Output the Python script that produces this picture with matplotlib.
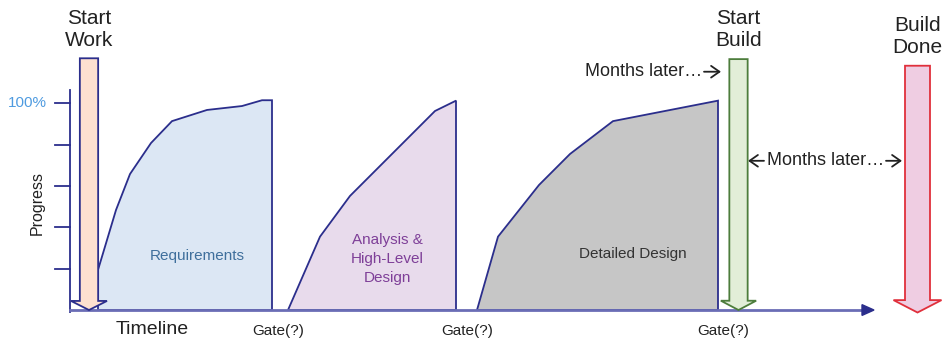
import matplotlib.pyplot as plt
import matplotlib.patches as mpatches
import numpy as np

plt.rcParams['font.family'] = ['Liberation Sans', 'DejaVu Sans']

# timeline position (x) and progress in % (y) for each phase
req_x = [98, 98, 116, 130, 151, 172, 207, 242, 262, 272, 272]
req_y = [0, 19.4, 48.4, 65.8, 80.8, 91.4, 96.8, 98.7, 101.5, 101.5, 0]
ana_x = [288, 320, 350, 435, 456, 456]
ana_y = [0, 35.5, 55.2, 96.3, 101.3, 0]
det_x = [477, 498, 539, 570, 613, 718, 718]
det_y = [0, 35.5, 60.5, 75.5, 91.4, 101.3, 0]

phase_names = ['Requirements', 'Analysis &\nHigh-Level\nDesign', 'Detailed Design']
phase_label_x = [197, 387, 633]
phase_label_y = [26, 24.7, 27]

gate_x = [278, 467, 723]
tick_vals = [20, 40, 60, 80, 100]

# milestone arrows: label, x, top, tip
ms_labels = ['Start\nWork', 'Start\nBuild', 'Build\nDone']
ms_x = [89, 738.5, 917.5]
ms_top = [121.8, 121.4, 118.2]
ms_tip = [0, 0, -1.2]
ms_label_y = [135.7, 135.7, 132.2]

navy = '#2b2e8c'
dark = '#222222'

fig = plt.figure(figsize=(9.5, 3.4), dpi=100)
ax = fig.add_axes([0, 0, 1, 1])
ax.set_xlim(0, 950)
ax.set_ylim(-14.5, 150)
ax.axis('off')

# phase areas
fills = ['#dce7f4', '#e8dbec', '#c6c6c6']
text_cols = ['#3f6f9c', '#7e3f98', '#333333']
for (xs, ys), fc in zip([(req_x, req_y), (ana_x, ana_y), (det_x, det_y)], fills):
    ax.fill(xs, ys, facecolor=fc, edgecolor=navy, linewidth=1.3, zorder=2)
for name, lx, ly, c in zip(phase_names, phase_label_x, phase_label_y, text_cols):
    ax.text(lx, ly, name, color=c, fontsize=11, ha='center', va='center',
            linespacing=1.45, zorder=3)

# y axis with ticks
ax.plot([70, 70], [-0.8, 106.4], color=navy, lw=1.3, zorder=3)
for t in tick_vals:
    ax.plot([55, 70], [t, t], color=navy, lw=1.3, zorder=3)
ax.text(47, 100, '100%', color='#4f9be0', fontsize=11, ha='right', va='center')
ax.text(37, 52, 'Progress', rotation=90, fontsize=11.5, color=dark,
        ha='center', va='center')

# x axis (timeline)
ax.plot([70, 864], [0, 0], color='#6a6db5', lw=2, zorder=3)
ax.add_patch(mpatches.Polygon([[862, 2.6], [874, 0], [862, -2.6]],
                              closed=True, color=navy, zorder=4))
ax.text(152, -9.5, 'Timeline', fontsize=14, color=dark, ha='center', va='center')
for gx in gate_x:
    ax.text(gx, -10.3, 'Gate(?)', fontsize=11, color=dark, ha='center', va='center')

# milestone arrows
arrow_fc = ['#fde0d0', '#e2eed8', '#efcde2']
arrow_ec = [navy, '#4d7d3c', '#e0303c']
body_w = [18.3, 18.3, 25]
head_w = [36, 35.3, 48]
head_l = [4.4, 4.5, 6.0]
for x, top, tip, fc, ec, bw, hw, hl in zip(ms_x, ms_top, ms_tip, arrow_fc, arrow_ec,
                                          body_w, head_w, head_l):
    ax.add_patch(mpatches.FancyArrow(x, top, 0, tip - top, width=bw, head_width=hw,
                                     head_length=hl, length_includes_head=True,
                                     facecolor=fc, edgecolor=ec, lw=1.3, zorder=5))
for lab, x, ly in zip(ms_labels, ms_x, ms_label_y):
    ax.text(x, ly, lab, fontsize=15, color=dark, ha='center', va='center',
            linespacing=1.2)

# "months later" notes
aprops = dict(arrowstyle='->,head_length=0.5,head_width=0.35', lw=1.3, color=dark,
              shrinkA=0, shrinkB=0, mutation_scale=12)
ax.text(702, 115.3, 'Months later\u2026', fontsize=13, color=dark,
        ha='right', va='center')
ax.annotate('', xy=(721, 115.3), xytext=(704, 115.3), arrowprops=aprops)
ax.text(767, 72.2, 'Months later\u2026', fontsize=13, color=dark,
        ha='left', va='center')
ax.annotate('', xy=(748, 72.2), xytext=(764, 72.2), arrowprops=aprops)
ax.annotate('', xy=(902, 72.2), xytext=(886, 72.2), arrowprops=aprops)

fig.savefig('out.png', dpi=100)
